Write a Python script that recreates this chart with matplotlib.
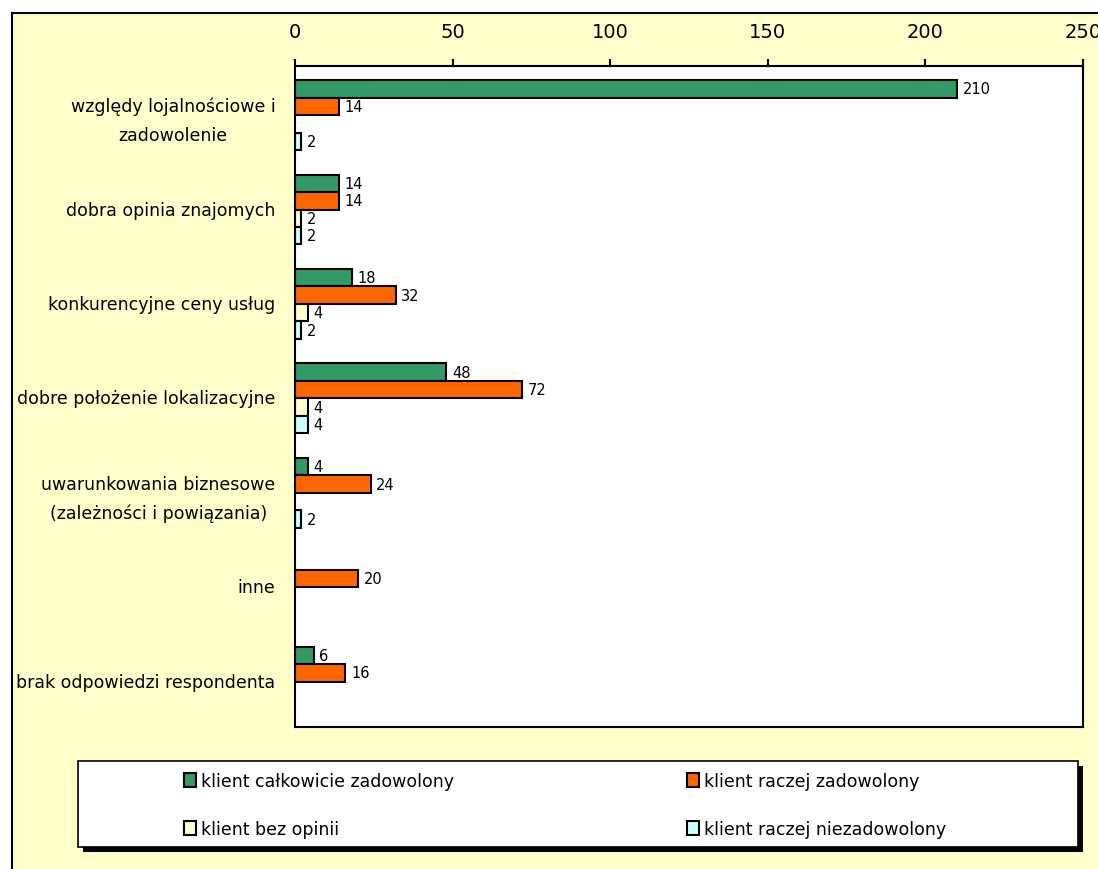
import matplotlib
matplotlib.use("Agg")
import matplotlib.pyplot as plt
import numpy as np
from matplotlib.patches import Rectangle

categories = [
    "względy lojalnościowe i\nzadowolenie",
    "dobra opinia znajomych",
    "konkurencyjne ceny usług",
    "dobre położenie lokalizacyjne",
    "uwarunkowania biznesowe\n(zależności i powiązania)",
    "inne",
    "brak odpowiedzi respondenta",
]
series_names = [
    "klient całkowicie zadowolony",
    "klient raczej zadowolony",
    "klient bez opinii",
    "klient raczej niezadowolony",
]
calkowicie = [210, 14, 18, 48, 4, 0, 6]
raczej = [14, 14, 32, 72, 24, 20, 16]
bez_opinii = [0, 2, 4, 4, 0, 0, 0]
niezadowolony = [2, 2, 2, 4, 2, 0, 0]
x_ticks = [0, 50, 100, 150, 200, 250]

colors = ["#339966", "#FF6600", "#FFFFCC", "#CCFFFF"]
series = [calkowicie, raczej, bez_opinii, niezadowolony]

W, H = 1098, 870
fig = plt.figure(figsize=(W / 100, H / 100), dpi=100)
fig.patch.set_facecolor("white")


def fx(px):
    return px / W


def fy(py):
    return 1 - py / H


# outer chart-area frame
frame = Rectangle((fx(12), -0.05), 1.1, fy(14) + 0.05, transform=fig.transFigure,
                  facecolor="#FFFFCC", edgecolor="black", lw=1.5, zorder=-2)
fig.patches.append(frame)

ax = fig.add_axes([fx(295), fy(728), fx(1083) - fx(295), fy(67) - fy(728)])
ax.set_facecolor("white")

n = len(categories)
y = np.arange(n)
h = 0.185
offsets = (np.arange(4) - 1.5) * h + 0.02

handles = []
for s, (vals, c, name) in enumerate(zip(series, colors, series_names)):
    vals = np.array(vals)
    mask = vals > 0
    bars = ax.barh(y[mask] + offsets[s], vals[mask], height=h, color=c,
                   edgecolor="black", lw=1.5, label=name)
    handles.append(bars)
    for yy, v in zip(y[mask] + offsets[s], vals[mask]):
        ax.annotate(f"{v}", (v, yy), xytext=(4, 0), textcoords="offset points",
                    va="center", ha="left", fontsize=10.5, color="black")

ax.set_xlim(0, 250)
ax.set_ylim(n - 0.5, -0.5)
ax.set_xticks(x_ticks)
ax.xaxis.tick_top()
ax.tick_params(axis="x", direction="out", length=5, width=1.5, pad=13, labelsize=14)
ax.set_yticks(y)
ax.set_yticklabels(categories)
ax.tick_params(axis="y", length=0, pad=14, labelsize=12.5)
for t in ax.get_yticklabels():
    t.set_multialignment("center")
    t.set_linespacing(1.75)
for sp in ax.spines.values():
    sp.set_linewidth(1.5)
    sp.set_color("black")

# legend box with shadow
shadow = Rectangle((fx(83), fy(853)), fx(1083) - fx(83), fy(767) - fy(853),
                   transform=fig.transFigure, facecolor="black", edgecolor="black",
                   lw=0, zorder=1)
box = Rectangle((fx(78), fy(848)), fx(1078) - fx(78), fy(762) - fy(848),
                transform=fig.transFigure, facecolor="white", edgecolor="black",
                lw=1.2, zorder=2)
fig.patches.append(shadow)
fig.patches.append(box)

common = dict(loc="upper left", frameon=False, fontsize=12.5, handlelength=0.7,
              handleheight=0.85, handletextpad=0.3, labelspacing=1.75,
              borderpad=0, borderaxespad=0)
leg1 = fig.legend([handles[0], handles[2]], [series_names[0], series_names[2]],
                  bbox_to_anchor=(fx(184), fy(773)), **common)
leg2 = fig.legend([handles[1], handles[3]], [series_names[1], series_names[3]],
                  bbox_to_anchor=(fx(687), fy(773)), **common)
leg1.set_zorder(5)
leg2.set_zorder(5)

fig.savefig("out.png", dpi=100, facecolor=fig.get_facecolor())
